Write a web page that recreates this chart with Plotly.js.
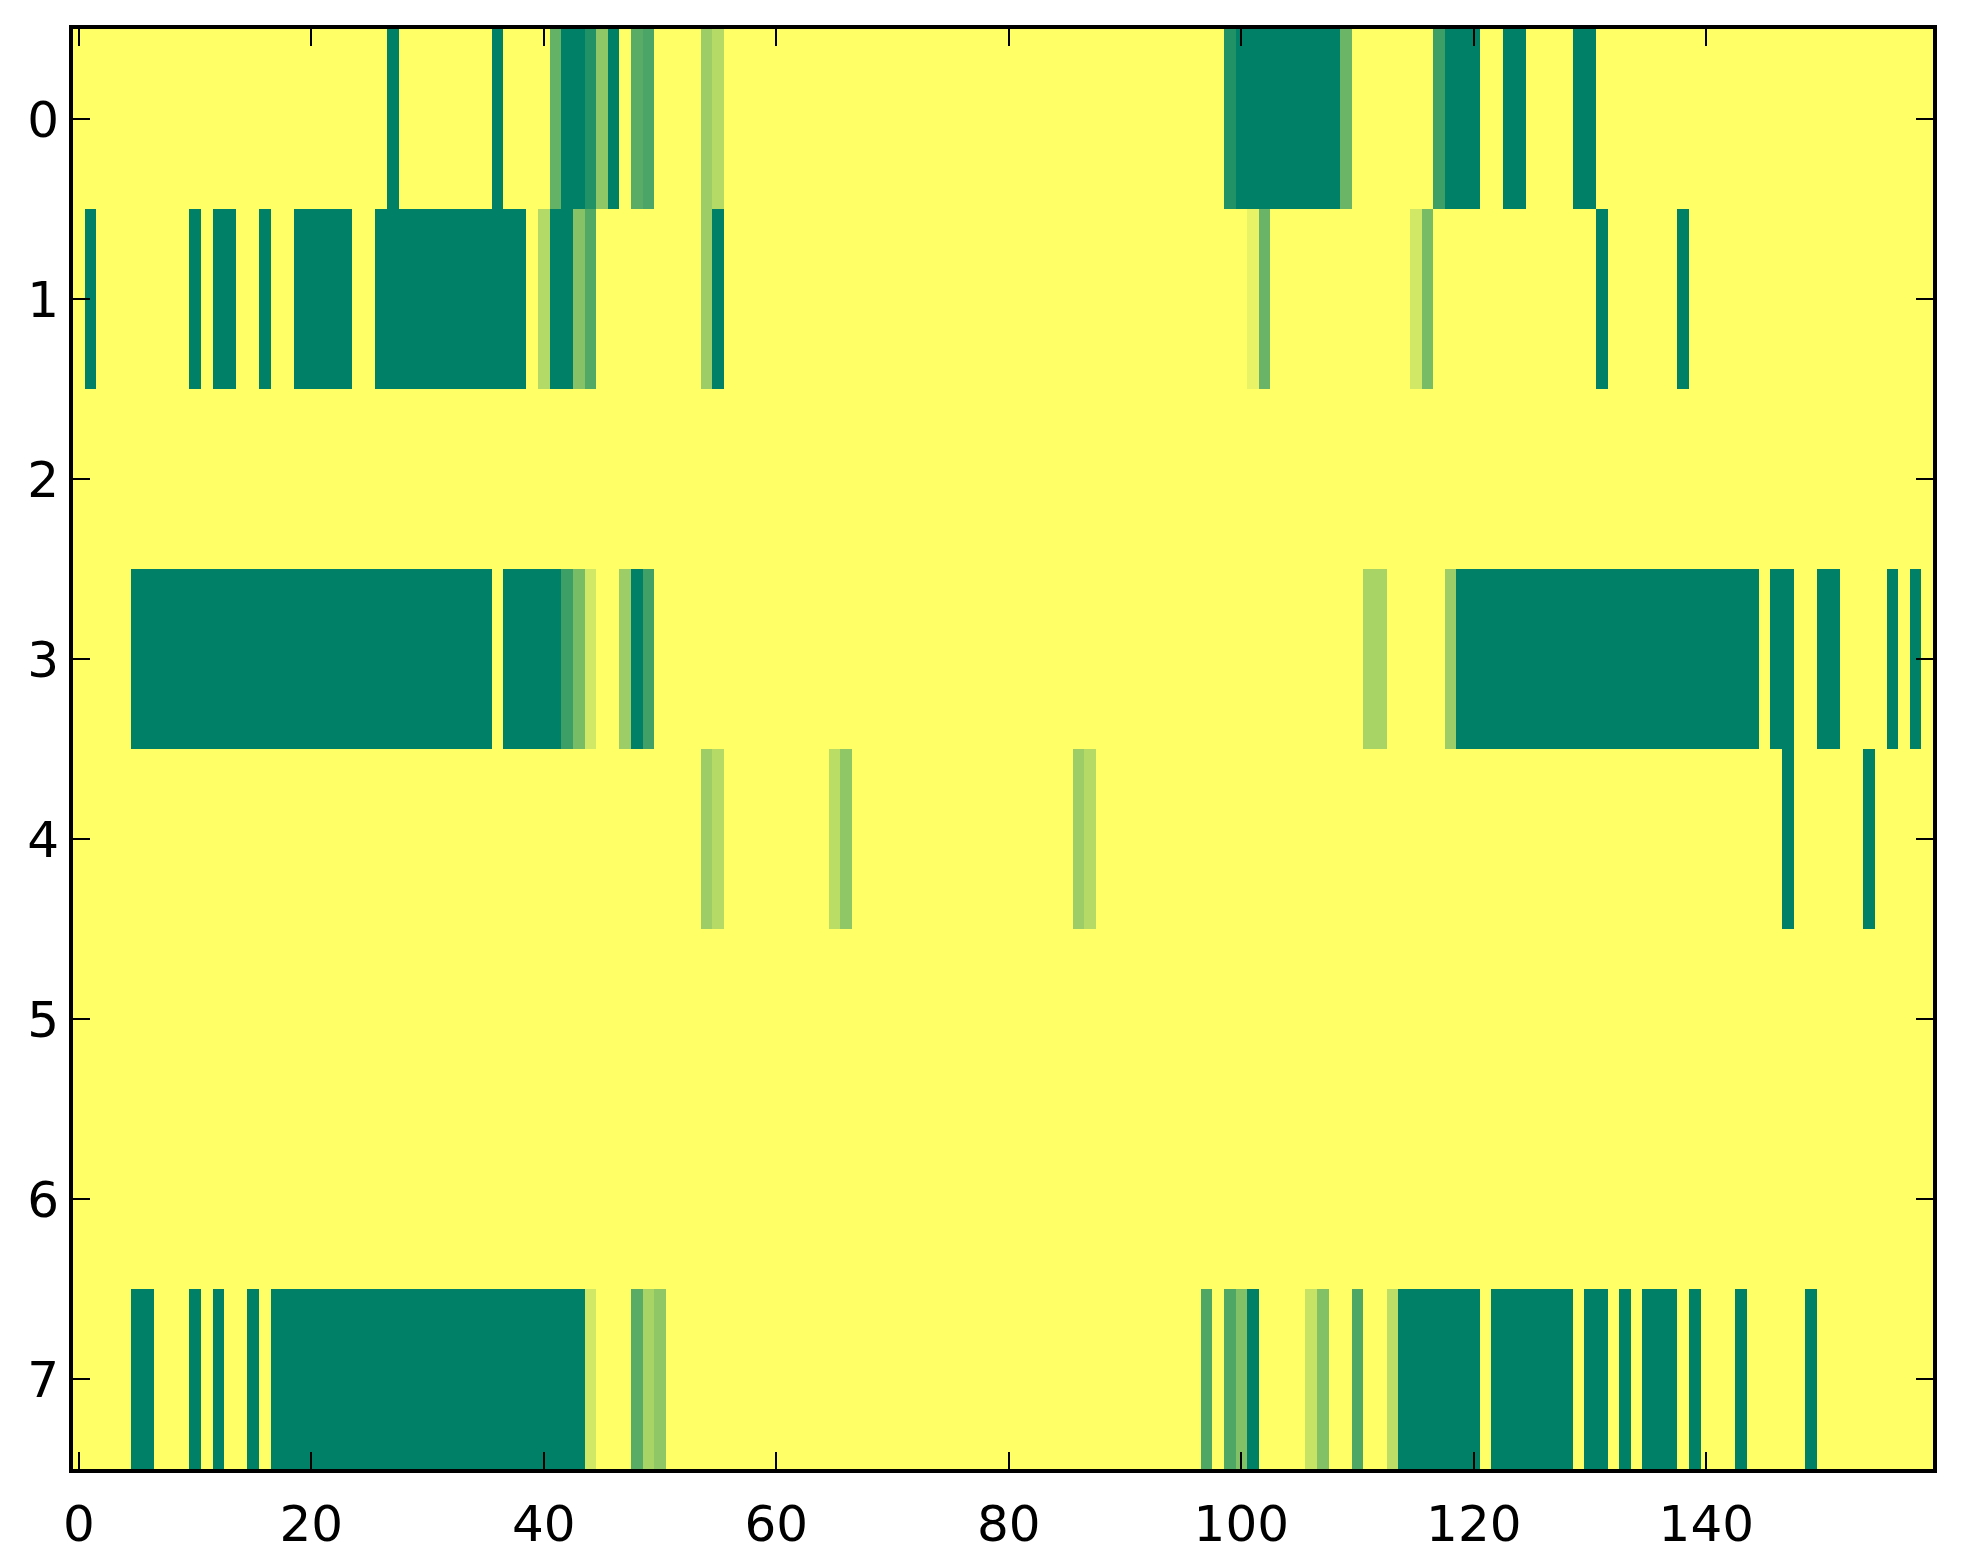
<!DOCTYPE html>
<html>
<head>
<meta charset="utf-8">
<script src="https://cdn.plot.ly/plotly-3.0.1.min.js"></script>
<style>
  html, body { margin: 0; padding: 0; background: #ffffff; }
  #chart { width: 1963px; height: 1564px; }
</style>
</head>
<body>
<div id="chart"></div>
<script>
// Number of columns (x) and rows (y) of the image
const nCols = 160;
const rowLabels = [0, 1, 2, 3, 4, 5, 6, 7];
const xTickVals = [0, 20, 40, 60, 80, 100, 120, 140];

// Non-zero cells of each row, as runs [firstCol, lastCol, value]
const row0 = [[27,27,1],[36,36,1],[41,41,0.61],[42,43,1],[44,44,0.87],[45,45,0.44],[46,46,1],
  [48,48,0.65],[49,49,0.71],[54,54,0.39],[55,55,0.29],[99,99,0.87],[100,108,1],[109,109,0.58],
  [117,117,0.76],[118,120,1],[123,124,1],[129,130,1]];
const row1 = [[1,1,1],[10,10,1],[12,13,1],[16,16,1],[19,23,1],[26,38,1],[40,40,0.30],[41,42,1],
  [43,43,0.47],[44,44,0.68],[54,54,0.39],[55,55,1],[101,101,0.09],[102,102,0.59],
  [115,115,0.18],[116,116,0.53],[131,131,1],[138,138,1]];
const row2 = [];
const row3 = [[5,35,1],[37,41,1],[42,42,0.76],[43,43,0.53],[44,44,0.18],[47,47,0.39],[48,48,1],
  [49,49,0.75],[111,112,0.34],[118,118,0.39],[119,144,1],[146,147,1],[150,151,1],[156,156,1],[158,158,1]];
const row4 = [[54,54,0.39],[55,55,0.29],[65,65,0.27],[66,66,0.44],[86,86,0.39],[87,87,0.29],
  [147,147,1],[154,154,1]];
const row5 = [];
const row6 = [];
const row7 = [[5,6,1],[10,10,1],[12,12,1],[15,15,1],[17,43,1],[44,44,0.18],[48,48,0.65],
  [49,49,0.34],[50,50,0.44],[97,97,0.69],[99,99,0.69],[100,100,0.49],[101,101,1],
  [106,106,0.22],[107,107,0.49],[110,110,0.69],[113,113,0.26],[114,120,1],[122,128,1],
  [130,131,1],[133,133,1],[135,137,1],[139,139,1],[143,143,1],[149,149,1]];

const rows = [row0, row1, row2, row3, row4, row5, row6, row7];

// Build the dense matrix the heatmap needs from the runs above
const colIndex = Array.from({length: nCols}, (_, i) => i);
const z = rows.map(runs => {
  const r = new Array(nCols).fill(0);
  runs.forEach(([a, b, v]) => { for (let c = a; c <= b; c++) r[c] = v; });
  return r;
});

// matplotlib "summer_r" colormap
const summerR = [[0, 'rgb(255,255,102)'], [1, 'rgb(0,128,102)']];

const trace = {
  type: 'heatmap',
  x: colIndex,
  y: rowLabels,
  z: z,
  zmin: 0,
  zmax: 1,
  colorscale: summerR,
  showscale: false,
  zsmooth: false,
  hoverinfo: 'x+y+z'
};

const axisCommon = {
  showline: true,
  linecolor: '#000000',
  linewidth: 4,
  mirror: 'ticks',
  ticks: 'inside',
  ticklen: 17,
  tickwidth: 2,
  tickcolor: '#000000',
  showgrid: false,
  zeroline: false,
  tickfont: { family: 'DejaVu Sans, sans-serif', size: 50, color: '#000000' }
};

const layout = {
  width: 1963,
  height: 1564,
  margin: { l: 73, r: 30, t: 29, b: 95, pad: 0 },
  paper_bgcolor: '#ffffff',
  plot_bgcolor: '#ffffff',
  showlegend: false,
  xaxis: Object.assign({}, axisCommon, {
    range: [-0.5, 159.5],
    tickmode: 'array',
    tickvals: xTickVals,
    ticktext: xTickVals.map(String),
    ticklabelstandoff: 8
  }),
  yaxis: Object.assign({}, axisCommon, {
    range: [7.5, -0.5],
    tickmode: 'array',
    tickvals: rowLabels,
    ticktext: rowLabels.map(String),
    ticklabelstandoff: 0
  })
};

Plotly.newPlot('chart', [trace], layout, { displayModeBar: false, staticPlot: true });
</script>
</body>
</html>
